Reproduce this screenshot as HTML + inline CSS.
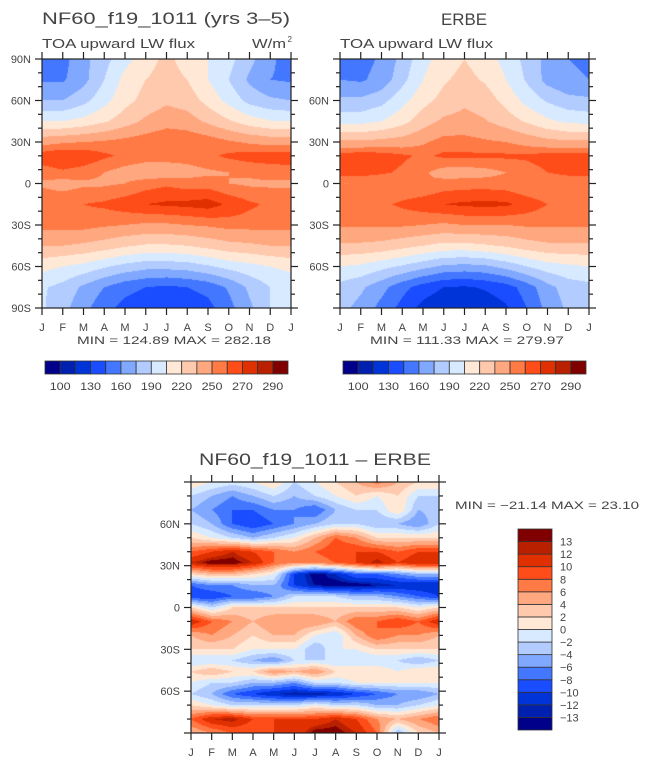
<!DOCTYPE html>
<html><head><meta charset="utf-8">
<style>
html,body{margin:0;padding:0;background:#fff;}
body{width:645px;height:762px;position:relative;overflow:hidden;font-family:"Liberation Sans",sans-serif;color:#444;}
svg{position:absolute;left:0;top:0;}
canvas{position:absolute;}
</style></head>
<body>
<canvas id="c1" width="249" height="249" style="left:42px;top:59px"></canvas>
<canvas id="c2" width="249" height="249" style="left:340px;top:59px"></canvas>
<canvas id="c3" width="248" height="251" style="left:191px;top:482px"></canvas>
<svg id="ov" width="645" height="762"></svg>
<script>
// ---------- data ----------
const months = ["J","F","M","A","M","J","J","A","S","O","N","D","J"];
const fluxLats = [90,75,60,45,30,20,8,0,-15,-30,-45,-60,-75,-90];
const modelFlux = [
[155,155,170,185,200,212,225,212,205,195,180,162,155],
[158,158,170,190,210,220,228,220,205,190,172,160,158],
[175,175,185,200,215,225,232,228,215,200,185,178,175],
[205,205,210,218,228,238,245,242,232,222,212,206,205],
[245,248,250,252,255,258,260,260,258,252,248,245,245],
[266,270,268,262,258,255,255,255,258,262,265,265,266],
[255,258,255,250,245,242,242,245,248,250,252,255,255],
[248,245,248,248,250,255,258,255,255,250,248,248,248],
[258,258,260,262,266,270,272,273,275,268,262,258,258],
[255,255,255,252,250,248,248,250,252,255,255,255,255],
[235,235,232,228,222,218,218,220,225,230,232,235,235],
[210,205,200,192,185,180,180,182,188,195,200,205,210],
[192,185,172,160,150,145,142,145,150,162,178,190,192],
[192,180,165,150,140,135,130,135,140,155,172,190,192]];
const erbeFlux = [
[158,155,162,180,200,212,220,212,200,185,170,160,158],
[160,158,165,185,205,218,225,218,205,188,170,162,160],
[178,178,185,200,215,225,232,228,215,200,188,180,178],
[200,200,205,215,228,238,240,236,228,218,208,202,200],
[238,238,240,242,248,255,255,252,250,245,240,238,238],
[265,268,266,262,258,262,262,262,262,262,265,265,265],
[265,265,262,258,252,245,244,246,250,255,260,264,265],
[250,250,250,250,250,254,255,255,254,250,250,250,250],
[255,255,258,262,266,270,272,273,272,266,260,256,255],
[252,252,252,252,250,248,250,250,250,252,252,252,252],
[232,232,230,225,220,215,215,218,222,228,232,232,232],
[205,202,195,188,180,172,170,172,180,190,198,202,205],
[185,178,165,150,138,130,128,132,138,152,170,182,185],
[180,170,155,140,125,118,115,120,128,145,165,178,180]];
const diffLats = [90,80,70,60,50,40,32,24,16,8,0,-10,-20,-30,-38,-46,-54,-62,-70,-80,-90];
const diffVals = [
[2,0,-1,0,2,-2,0,2,4,7,4,2,2],
[-2,-4,-6,-4,-2,-4,-2,0,2,0,2,-2,-2],
[-4,-6,-8,-8,-6,-6,-8,-4,-2,-2,2,-4,-3],
[-2,-4,-8,-10,-8,-6,-4,-2,-2,-4,-4,-6,-2],
[2,0,-2,-4,-2,0,4,8,6,2,2,2,2],
[8,10,12,10,8,6,8,10,10,10,8,10,10],
[12,14,14,12,8,6,6,8,10,13,10,12,12],
[2,4,4,2,0,-10,-14,-12,-8,-8,-6,-4,-4],
[-8,-6,-6,-4,-4,-10,-13,-14,-14,-13,-12,-12,-12],
[-10,-10,-8,-8,-6,-2,-2,-2,-4,-4,-6,-8,-10],
[2,-2,2,2,2,2,2,2,2,2,2,0,2],
[12,8,6,4,6,6,6,4,8,8,10,8,12],
[4,6,4,2,4,4,0,-2,4,8,6,6,4],
[2,2,2,0,0,0,-4,0,0,2,2,2,2],
[-2,-2,-2,-4,-6,-2,-2,-2,-2,-2,-2,-4,-2],
[2,4,2,2,6,4,6,2,2,2,0,2,2],
[0,-2,-2,-4,-4,-6,-2,-2,0,0,0,0,0],
[-2,-4,-8,-10,-12,-13,-13,-12,-10,-8,-6,-6,-4],
[2,0,-2,-2,-2,-2,0,-2,-2,-4,-4,-2,0],
[8,12,13,10,10,10,10,12,10,6,4,6,8],
[4,6,8,8,10,10,14,14,12,8,-4,2,4]];
const fluxLevels = [100,115,130,145,160,175,190,205,220,235,250,260,270,280,290];
const fluxTickLabels = ["100","130","160","190","220","250","270","290"];
const fluxTickIdx = [0,2,4,6,8,10,12,14];
const diffLevels = [-13,-12,-10,-8,-6,-4,-2,0,2,4,6,8,10,12,13];
const diffLabels = ["-13","-12","-10","-8","-6","-4","-2","0","2","4","6","8","10","12","13"];
const colors = ["#00008a","#0020b0","#0033d8","#1a4dff","#4477ff","#80a8ff","#b3ccff","#d8eaff","#ffe9d6","#ffc9ae","#ffa77f","#ff7a45","#ff4d1a","#e03000","#b82000","#800000"];

// ---------- rendering ----------
function hex(c){return [parseInt(c.substr(1,2),16),parseInt(c.substr(3,2),16),parseInt(c.substr(5,2),16)];}
const rgb = colors.map(hex);
function sample(lats,vals,t,lat){
  let i=0; while(i<lats.length-2 && lat<lats[i+1]) i++;
  let f=(lats[i]-lat)/(lats[i]-lats[i+1]); f=Math.max(0,Math.min(1,f));
  let m=Math.min(11,Math.floor(t)); let g=t-m;
  const a=vals[i][m]*(1-g)+vals[i][m+1]*g;
  const b=vals[i+1][m]*(1-g)+vals[i+1][m+1]*g;
  return a*(1-f)+b*f;
}
function level(v,levels){let k=0;while(k<levels.length&&v>=levels[k])k++;return k;}
function draw(id,lats,vals,levels){
  const cv=document.getElementById(id),ctx=cv.getContext('2d');
  const W=cv.width,H=cv.height,img=ctx.createImageData(W,H);
  for(let y=0;y<H;y++){const lat=90-(y+0.5)/H*180;
    for(let x=0;x<W;x++){const t=(x+0.5)/W*12;
      const c=rgb[level(sample(lats,vals,t,lat),levels)];
      const p=(y*W+x)*4;img.data[p]=c[0];img.data[p+1]=c[1];img.data[p+2]=c[2];img.data[p+3]=255;}}
  ctx.putImageData(img,0,0);
}
draw('c1',fluxLats,modelFlux,fluxLevels);
draw('c2',fluxLats,erbeFlux,fluxLevels);
draw('c3',diffLats,diffVals,diffLevels);

// ---------- overlay ----------
const NS="http://www.w3.org/2000/svg",ov=document.getElementById('ov');
function el(tag,attrs,parent){const e=document.createElementNS(NS,tag);for(const k in attrs)e.setAttribute(k,attrs[k]);(parent||ov).appendChild(e);return e;}
function txt(x,y,s,size,anchor,name,len){const e=el('text',{x:x,y:y,'font-size':size,'text-anchor':anchor||'start',fill:'#444','font-family':'"Liberation Sans",sans-serif'});e.textContent=s;
  if(len){e.setAttribute('textLength',len);e.setAttribute('lengthAdjust','spacingAndGlyphs');}
  
  
  return e;}
function axes(x0,y0,w,h,latLabels,prefix,mY){
  const g=el('g',{});
  
  
  el('rect',{x:x0,y:y0,width:w,height:h,fill:'none',stroke:'#222','stroke-width':1.2},g);
  for(let m=0;m<=12;m++){const x=x0+m/12*w;
    el('line',{x1:x,y1:y0,x2:x,y2:y0-7,stroke:'#222','stroke-width':1.2},g);
    el('line',{x1:x,y1:y0+h,x2:x,y2:y0+h+7,stroke:'#222','stroke-width':1.2},g);
    txt(x,mY,months[m],11,'middle',prefix+'-month-label');}
  for(let lat=90;lat>=-90;lat-=10){const y=y0+(90-lat)/180*h;const L=(lat%30===0)?7:4;
    el('line',{x1:x0,y1:y,x2:x0-L,y2:y,stroke:'#222','stroke-width':1.2},g);
    el('line',{x1:x0+w,y1:y,x2:x0+w+L,y2:y,stroke:'#222','stroke-width':1.2},g);}
  latLabels.forEach(function(l){const y=y0+(90-l)/180*h;
    const s=l===0?"0":(Math.abs(l)+(l>0?"N":"S"));
    txt(x0-11,y+4,s,11,'end',prefix+'-lat-label');});
}
axes(42,59,249,249,[90,60,30,0,-30,-60,-90],'model',331);
axes(340,59,249,249,[60,30,0,-30,-60],'erbe',331);
axes(191,482,248,251,[60,30,0,-30,-60],'diff',756);

txt(42,24,"NF60_f19_1011 (yrs 3\u20135)",17,'start','model-title',248);
txt(42,48,"TOA upward LW flux",13,'start','model-subtitle',153);
txt(286,48,"W/m",13,'end','units-label',34);
txt(292,42,"2",8,'end','units-superscript');
txt(464,25,"ERBE",17,'middle','erbe-title',46);
txt(340,48,"TOA upward LW flux",13,'start','erbe-subtitle',153);
txt(77,344,"MIN = 124.89  MAX = 282.18",11,'start','model-minmax',194);
txt(370,344,"MIN = 111.33  MAX = 279.97",11,'start','erbe-minmax',194);
txt(199,465,"NF60_f19_1011 \u2013 ERBE",17,'start','diff-title',232);
txt(455,509,"MIN = \u221221.14  MAX =  23.10",11,'start','diff-minmax',184);

function hbar(x0,y0,w,h,prefix){
  const g=el('g',{});
  
  
  const bw=w/colors.length;
  colors.forEach(function(c,i){const r=el('rect',{x:x0+i*bw,y:y0,width:bw,height:h,fill:c,stroke:'#333','stroke-width':0.8},g);
    
    });
  fluxTickIdx.forEach(function(k,j){txt(x0+(k+1)*bw,y0+h+16,fluxTickLabels[j],11,'middle',prefix+'-colorbar-label',21);});
}
hbar(45,361,243,13,'model');
hbar(343,361,243,13,'erbe');
(function(){
  const x0=518,y0=529,w=34,h=201,bh=h/colors.length;
  const g=el('g',{});
  
  
  colors.forEach(function(c,i){const r=el('rect',{x:x0,y:y0+(colors.length-1-i)*bh,width:w,height:bh,fill:c,stroke:'#333','stroke-width':0.8},g);
    
    });
  diffLevels.forEach(function(v,k){const y=y0+(colors.length-1-k)*bh;
    txt(560,y+4,diffLabels[k].replace('-','\u2212'),11,'start','diff-colorbar-label');});
})();
</script>
</body></html>
